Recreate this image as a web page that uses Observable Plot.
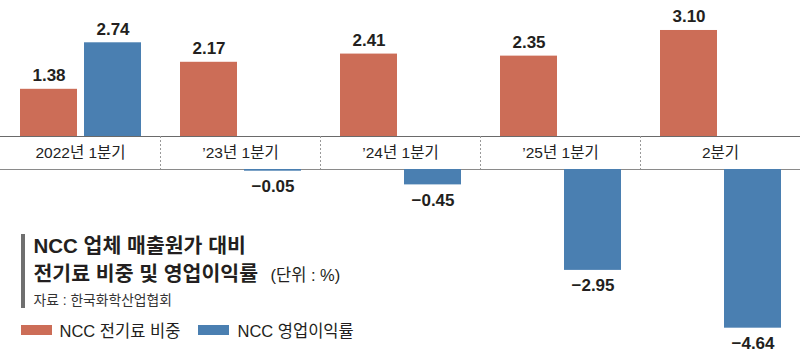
<!DOCTYPE html>
<html>
<head>
<meta charset="utf-8">
<script src="https://cdn.jsdelivr.net/npm/d3@7"></script>
<script src="https://cdn.jsdelivr.net/npm/@observablehq/plot@0.6"></script>
<style>
  html, body { margin: 0; padding: 0; background: #fff; }
  #wrap { position: relative; width: 800px; height: 356px; overflow: hidden; }
  .box { position: absolute; }
</style>
</head>
<body>
<div id="wrap"></div>
<script>
// ---- data ----
const categories = ["2022년 1분기", "’23년 1분기", "’24년 1분기", "’25년 1분기", "2분기"];
const electricityShare = [1.38, 2.17, 2.41, 2.35, 3.10];   // NCC 전기료 비중
const operatingMargin = [2.74, -0.05, -0.45, -2.95, -4.64]; // NCC 영업이익률
const seriesNames = ["NCC 전기료 비중", "NCC 영업이익률"];
const seriesColors = ["#cc6d57", "#4a7fb1"];
const titleLines = ["NCC 업체 매출원가 대비", "전기료 비중 및 영업이익률"];
const unitText = "(단위 : %)";
const sourceText = "자료 : 한국화학산업협회";

// ---- layout (broken axis: gap for category band between 0 and negatives) ----
const W = 800, H = 356;
const k = 34.2;            // px per unit
const zeroPx = 136;        // pixel position of zero line
const gapPx = 33;          // height of category band
const G = gapPx / k;       // gap in data units
const yMax = zeroPx / k;
const yMin = yMax - H / k;
const shift = v => v >= 0 ? v : v - G;

const rows = [];
categories.forEach((c, i) => {
  rows.push({cat: c, series: seriesNames[0], v: electricityShare[i], idx: 0});
  rows.push({cat: c, series: seriesNames[1], v: operatingMargin[i], idx: 1});
});
const fmt = v => (v < 0 ? "−" : "") + Math.abs(v).toFixed(2);

const numFont = "'Liberation Sans', Arial, sans-serif";
const krFont = "'Liberation Sans', 'Noto Sans CJK KR', sans-serif";

const barOpts = idx => ({
  x: "cat",
  y1: d => d.v >= 0 ? 0 : -G,
  y2: d => shift(d.v),
  fill: seriesColors[idx],
  insetLeft: idx === 0 ? 20 : 84,
  insetRight: idx === 0 ? 83 : 19
});
const labelDx = [-31.5, 32.5];

const chart = Plot.plot({
  width: W,
  height: H,
  margin: 0,
  x: {type: "band", domain: categories, range: [0, W], padding: 0, axis: null},
  y: {domain: [yMin, yMax], range: [H, 0], axis: null},
  style: {background: "transparent", overflow: "visible"},
  marks: [
    // category band
    Plot.ruleY([0], {stroke: "#6a6a6a", strokeWidth: 1}),
    Plot.ruleY([-G], {stroke: "#8a8a8a", strokeWidth: 1}),
    Plot.ruleX(categories.slice(1), {x: d => d, y1: 0, y2: -G, dx: -80, stroke: "#999", strokeDasharray: "2,2"}),
    Plot.text(categories, {x: d => d, y: -G / 2, text: d => d, fontSize: 15.5, fontFamily: krFont, fill: "#222", lineAnchor: "middle"}),
    // bars
    Plot.rectY(rows.filter(d => d.idx === 0), barOpts(0)),
    Plot.rectY(rows.filter(d => d.idx === 1), barOpts(1)),
    // value labels
    ...[0, 1].map(idx => Plot.text(rows.filter(d => d.idx === idx && d.v >= 0), {
      x: "cat", y: d => shift(d.v), text: d => fmt(d.v), dx: labelDx[idx], dy: -8,
      lineAnchor: "bottom", fontSize: 17, fontWeight: "bold", fontFamily: numFont, fill: "#231f20"
    })),
    ...[0, 1].map(idx => Plot.text(rows.filter(d => d.idx === idx && d.v < 0), {
      x: "cat", y: d => shift(d.v), text: d => fmt(d.v), dx: labelDx[idx], dy: 9,
      lineAnchor: "top", fontSize: 17, fontWeight: "bold", fontFamily: numFont, fill: "#231f20"
    })),
    // title block
    Plot.text([titleLines[0]], {frameAnchor: "top-left", dx: 33, dy: 252, text: d => d, textAnchor: "start", lineAnchor: "bottom",
      fontSize: 20.5, fontWeight: "bold", fontFamily: krFont, fill: "#231f20"}),
    Plot.text([titleLines[1]], {frameAnchor: "top-left", dx: 33, dy: 280, text: d => d, textAnchor: "start", lineAnchor: "bottom",
      fontSize: 20.5, fontWeight: "bold", fontFamily: krFont, fill: "#231f20"}),
    Plot.text([unitText], {frameAnchor: "top-left", dx: 270, dy: 280, text: d => d, textAnchor: "start", lineAnchor: "bottom",
      fontSize: 16.5, fontFamily: krFont, fill: "#231f20"}),
    Plot.text([sourceText], {frameAnchor: "top-left", dx: 33, dy: 304, text: d => d, textAnchor: "start", lineAnchor: "bottom",
      fontSize: 13.8, fontFamily: krFont, fill: "#333"}),
    Plot.text([seriesNames[0]], {frameAnchor: "top-left", dx: 59, dy: 336, text: d => d, textAnchor: "start", lineAnchor: "bottom",
      fontSize: 16.5, fontFamily: krFont, fill: "#231f20"}),
    Plot.text([seriesNames[1]], {frameAnchor: "top-left", dx: 237, dy: 336, text: d => d, textAnchor: "start", lineAnchor: "bottom",
      fontSize: 16.5, fontFamily: krFont, fill: "#231f20"})
  ]
});

const wrap = document.getElementById("wrap");
wrap.appendChild(chart);

// decorative bar and legend swatches
function box(left, top, w, h, color) {
  const d = document.createElement("div");
  d.className = "box";
  Object.assign(d.style, {left: left + "px", top: top + "px", width: w + "px", height: h + "px", background: color});
  wrap.appendChild(d);
}
box(21, 234, 4, 74, "#6f6f6f");
box(21, 325, 31, 10, seriesColors[0]);
box(198, 325, 31, 10, seriesColors[1]);
</script>
</body>
</html>
